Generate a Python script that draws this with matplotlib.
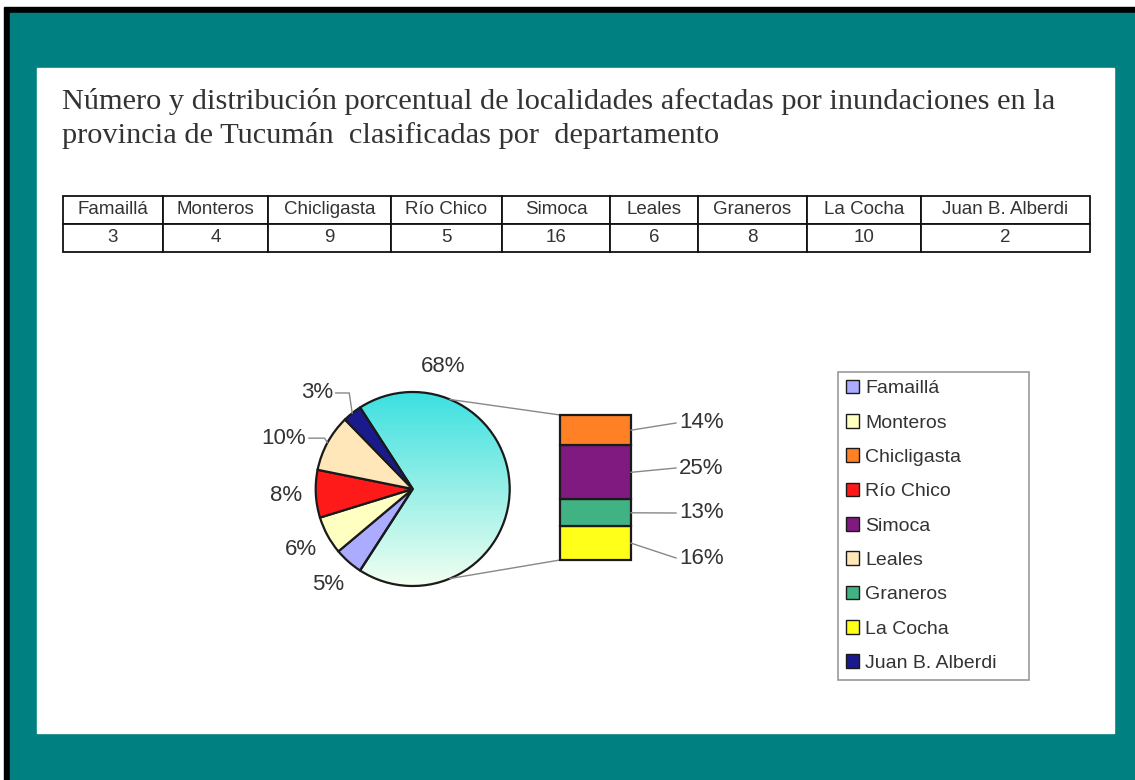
import numpy as np
import matplotlib
matplotlib.use("Agg")
import matplotlib.pyplot as plt
from matplotlib.patches import Rectangle, Patch
from matplotlib.colors import to_rgb

# data
departments = ["Famaillá", "Monteros", "Chicligasta", "Río Chico", "Simoca",
               "Leales", "Graneros", "La Cocha", "Juan B. Alberdi"]
localities = [3, 4, 9, 5, 16, 6, 8, 10, 2]
# slices kept in the pie (clockwise) and departments split into the bar (top to bottom)
pie_departments = ["Famaillá", "Monteros", "Río Chico", "Leales", "Juan B. Alberdi"]
bar_departments = ["Chicligasta", "Simoca", "Graneros", "La Cocha"]
title_lines = ["Número y distribución porcentual de localidades afectadas por inundaciones en la",
               "provincia de Tucumán  clasificadas por  departamento"]

colors = {
    "Famaillá": "#ABABFF", "Monteros": "#FFFFC2", "Chicligasta": "#FF8025",
    "Río Chico": "#FF1A1A", "Simoca": "#801A80", "Leales": "#FFE7BA",
    "Graneros": "#40B283", "La Cocha": "#FFFF1A", "Juan B. Alberdi": "#1A1A8C",
}
TXT = "#333333"
SANS = "Liberation Sans"

W, H = 1135, 780


def Y(y):
    # picture rows (top down) -> data y (bottom up)
    return H - y


fig = plt.figure(figsize=(W / 100, H / 100), dpi=100, facecolor="white")
ax = fig.add_axes([0, 0, 1, 1])

# frame: black edge, teal slide, white panel
ax.add_patch(Rectangle((4, 0), W - 4, Y(7), color="black", zorder=-10))
ax.add_patch(Rectangle((10, 0), W - 10, Y(13), color="#008080", zorder=-9))
ax.add_patch(Rectangle((37, Y(733)), 1114 - 37, 733 - 68, color="white", zorder=-8))

# title
ax.text(62, Y(109), title_lines[0], family="Liberation Serif", fontsize=21.9, color=TXT)
ax.text(62, Y(143), title_lines[1], family="Liberation Serif", fontsize=21.9, color=TXT)

# table
col_widths = [100, 105, 123, 111, 108, 88, 109, 114, 169]
tbl = ax.table(cellText=[[str(v) for v in localities]], colLabels=departments,
               cellLoc="center", colWidths=[w / sum(col_widths) for w in col_widths],
               bbox=[63 / W, Y(252) / H, 1027 / W, 56 / H])
tbl.auto_set_font_size(False)
tbl.set_fontsize(13.5)
for cell in tbl.get_celld().values():
    cell.set_edgecolor("#111111")
    cell.set_linewidth(1.3)
    cell.get_text().set_fontfamily(SANS)
    cell.get_text().set_color(TXT)

# pie of the remaining departments + "other" slice
val = dict(zip(departments, localities))
total = sum(localities)
other = sum(val[d] for d in bar_departments)
pie_vals = [val[d] for d in pie_departments] + [other]
CX, CY, R = 412.7, Y(489), 97

wedges, _ = ax.pie(pie_vals, colors=[colors[d] for d in pie_departments] + ["none"],
                   startangle=-180 * other / total, counterclock=False,
                   center=(CX, CY), radius=R,
                   wedgeprops=dict(edgecolor="#1a1a1a", linewidth=1.6))
ax.set_xlim(0, W)
ax.set_ylim(0, H)

# gradient fill for the "other" slice
top_c, bot_c = np.array(to_rgb("#3CE0E0")), np.array(to_rgb("#F2FFF0"))
t = np.linspace(0, 1, 256)[:, None]
grad = (bot_c + (top_c - bot_c) * t)[:, None, :]
im = ax.imshow(grad, extent=(CX - R, CX + R, CY - R, CY + R), origin="lower",
               aspect="auto", interpolation="bilinear", zorder=0.5)
im.set_clip_path(wedges[-1])
ax.set_xlim(0, W)
ax.set_ylim(0, H)

# pie labels
renderer = fig.canvas.get_renderer()
label_place = {"Juan B. Alberdi": (135, 1.40), "Leales": (158.5, 1.43), "other": (76, 1.30)}
leaders = ["Juan B. Alberdi", "Leales"]
for name, v, w in zip(pie_departments + ["other"], pie_vals, wedges):
    mid = (w.theta1 + w.theta2) / 2
    ang, dist = label_place.get(name, (mid, 1.31))
    lx = CX + dist * R * np.cos(np.radians(ang))
    ly = CY + dist * R * np.sin(np.radians(ang))
    txt = ax.text(lx, ly, f"{round(100 * v / total)}%", ha="center", va="center",
                  family=SANS, fontsize=16, color=TXT)
    if name in leaders:
        ex = CX + R * np.cos(np.radians(mid))
        ey = CY + R * np.sin(np.radians(mid))
        right = txt.get_window_extent(renderer).x1
        ax.plot([ex, ex - 3, right + 3], [ey, ly, ly], color="#888888", lw=1)

# secondary bar
BAR_X, BAR_W, BAR_TOP, BAR_BOT = 595.5, 71, Y(415), Y(560)
scale = (BAR_TOP - BAR_BOT) / other
stack = list(reversed(bar_departments))
heights = np.array([val[d] for d in stack]) * scale
bottoms = BAR_BOT + np.concatenate([[0], np.cumsum(heights)[:-1]])
ax.bar([BAR_X] * len(stack), heights, width=BAR_W, bottom=bottoms,
       color=[colors[d] for d in stack], edgecolor="#1a1a1a", linewidth=1.6, zorder=2)

# connector lines pie -> bar
for sgn, by in ((1, BAR_TOP), (-1, BAR_BOT)):
    a = np.radians(67.4 * sgn)
    ax.plot([CX + R * np.cos(a), BAR_X - BAR_W / 2], [CY + R * np.sin(a), by],
            color="#888888", lw=1, zorder=1.5)

# bar labels, spread evenly beside the bar
n = len(stack)
lab_mid = Y(490.5)
for i, (d, h, b) in enumerate(zip(stack, heights, bottoms)):
    ly = lab_mid + (i - (n - 1) / 2) * 45
    ax.plot([BAR_X + BAR_W / 2, 676], [b + h / 2, ly], color="#888888", lw=1)
    ax.text(679, ly, f"{round(100 * val[d] / total)}%", ha="left", va="center",
            family=SANS, fontsize=16, color=TXT)

# legend
handles = [Patch(facecolor=colors[d], edgecolor="#1a1a1a", linewidth=1, label=d)
           for d in departments]
leg = ax.legend(handles=handles, loc="upper left", mode="expand",
                bbox_to_anchor=(838 / W, Y(372) / H, 191 / W, 0), borderaxespad=0,
                fancybox=False, framealpha=1, edgecolor="#999999",
                prop=dict(family=SANS, size=14), labelcolor=TXT,
                handlelength=0.7, handleheight=0.7, handletextpad=0.3,
                labelspacing=0.86, borderpad=0.4)
leg.get_frame().set_linewidth(1.2)

ax.set_xlim(0, W)
ax.set_ylim(0, H)
ax.axis("off")

fig.savefig("out.png", dpi=100, facecolor=fig.get_facecolor())
